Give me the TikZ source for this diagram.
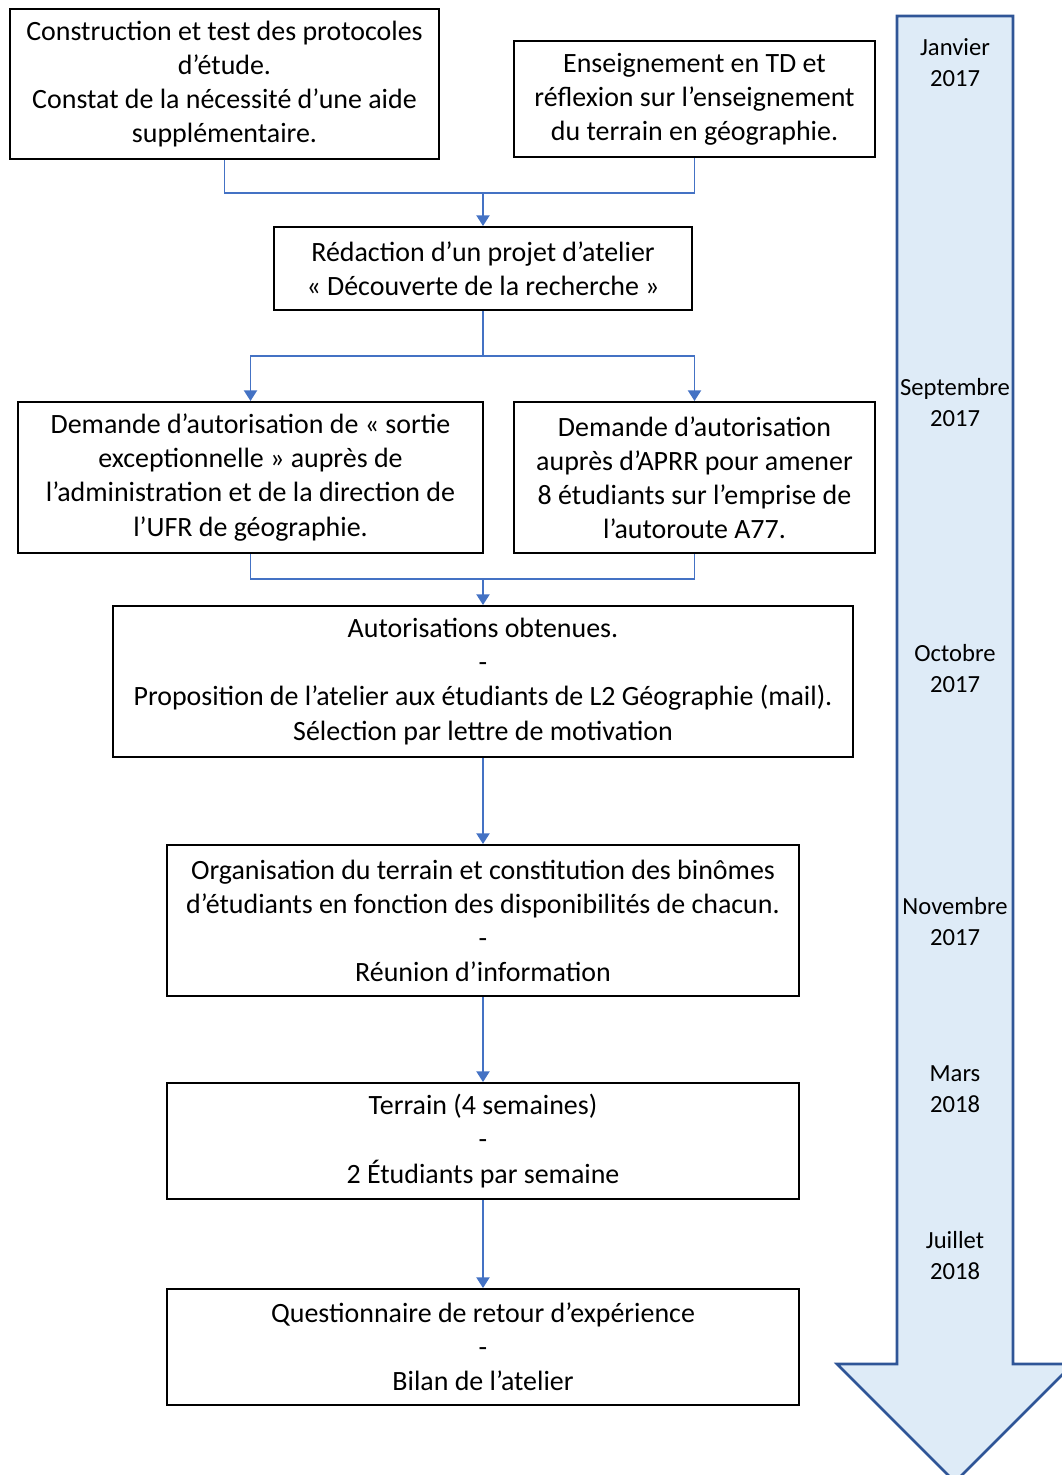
\documentclass[tikz,border=0pt]{standalone}
\usepackage{fontspec}
\setmainfont{Carlito}
\usepackage{xcolor}
\usepackage{tikz}
\usetikzlibrary{positioning,arrows.meta,calc}
\definecolor{linkblue}{RGB}{68,114,196}
\definecolor{timefill}{RGB}{222,235,247}
\definecolor{timeborder}{RGB}{47,85,151}
\tikzset{
  step box/.style={draw=black, line width=0.8pt, align=center, inner sep=0pt,
                   font=\fontsize{11}{13.4}\selectfont,
                   execute at begin node={\rule{0pt}{10pt}}},
  link/.style={draw=linkblue, line width=0.6pt},
  linkarrow/.style={link, -{Triangle[length=4.2pt, width=5.2pt]}},
  timeline/.style={draw=timeborder, fill=timefill, line width=1pt, line join=miter},
  month/.style={align=center, inner sep=0pt, font=\fontsize{9.7}{12.2}\selectfont}
}

\begin{document}
\begin{tikzpicture}[x=0.01384cm, y=-0.01384cm]
\useasboundingbox (0,0) rectangle (1062,1475);
\draw[timeline] (897,16) -- (1013,16) -- (1013,1364) -- (1073,1364) -- (955,1482) -- (837,1364) -- (897,1364) -- cycle;
\node[month] (m1) at (955,63) {Janvier\\2017};
\node[month] (m2) at (955,403) {Septembre\\2017};
\node[month] (m3) at (955,669) {Octobre\\2017};
\node[month] (m4) at (955,922) {Novembre\\2017};
\node[month] (m5) at (955,1089) {Mars\\2018};
\node[month] (m6) at (955,1256) {Juillet\\2018};
\node[step box, minimum width=5.937cm, minimum height=2.076cm] (c1) at (224.5,84) {Construction et test des protocoles\\d’étude.\\Constat de la nécessité d’une aide\\supplémentaire.};
\node[step box, minimum width=4.996cm, minimum height=1.605cm] (c2) at (694.5,99) {Enseignement en TD et\\réflexion sur l’enseignement\\du terrain en géographie.};
\node[step box, minimum width=5.785cm, minimum height=1.149cm] (c3) at (483,268.5) {Rédaction d’un projet d’atelier\\«~Découverte de la recherche~»};
\node[step box, minimum width=6.436cm, minimum height=2.090cm] (c4) at (250.5,477.5) {Demande d’autorisation de «~sortie\\exceptionnelle~» auprès de\\l’administration et de la direction de\\l’UFR de géographie.};
\node[step box, minimum width=4.996cm, minimum height=2.090cm] (c5) at (694.5,477.5) {Demande d’autorisation\\auprès d’APRR pour amener\\8 étudiants sur l’emprise de\\l’autoroute A77.};
\node[step box, minimum width=10.242cm, minimum height=2.090cm] (c6) at (483,681.5) {Autorisations obtenues.\\-\\Proposition de l’atelier aux étudiants de L2 Géographie (mail).\\Sélection par lettre de motivation};
\node[step box, minimum width=8.747cm, minimum height=2.090cm] (c7) at (483,920.5) {Organisation du terrain et constitution des binômes\\d’étudiants en fonction des disponibilités de chacun.\\-\\Réunion d’information};
\node[step box, minimum width=8.747cm, minimum height=1.605cm] (c8) at (483,1141) {Terrain (4 semaines)\\-\\2 Étudiants par semaine};
\node[step box, minimum width=8.747cm, minimum height=1.605cm] (c9) at (483,1347) {Questionnaire de retour d’expérience\\-\\Bilan de l’atelier};
\coordinate (j1) at (483,193);
\coordinate (j2) at (483,356);
\coordinate (j3) at (483,579);
\draw[link] (c1.south) |- (j1) -| (c2.south);
\draw[linkarrow] (j1) -- (c3.north);
\draw[link] (c3.south) -- (j2);
\draw[linkarrow] (j2) -| (c4.north);
\draw[linkarrow] (j2) -| (c5.north);
\draw[link] (c4.south) |- (j3) -| (c5.south);
\draw[linkarrow] (j3) -- (c6.north);
\draw[linkarrow] (c6.south) -- (c7.north);
\draw[linkarrow] (c7.south) -- (c8.north);
\draw[linkarrow] (c8.south) -- (c9.north);
\end{tikzpicture}
\end{document}
